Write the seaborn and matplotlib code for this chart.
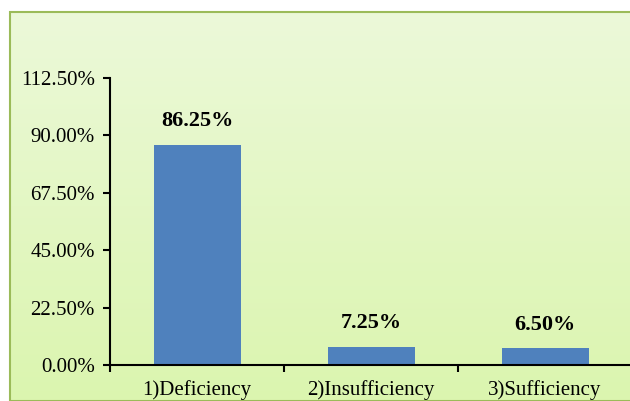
import numpy as np
import pandas as pd
import seaborn as sns
import matplotlib.pyplot as plt
from matplotlib.patches import Rectangle
from matplotlib.ticker import FixedLocator

# data
categories = ["1)Deficiency", "2)Insufficiency", "3)Sufficiency"]
values = [86.25, 7.25, 6.50]
y_ticks = [0, 22.5, 45, 67.5, 90, 112.5]

df = pd.DataFrame({"category": categories, "value": values})

sns.set_theme(style="white")
plt.rcParams['font.family'] = ['Liberation Serif', 'DejaVu Serif']

fig = plt.figure(figsize=(6.3, 4.01), dpi=100)
fig.patch.set_facecolor("white")

# gradient background panel with green border
bg = fig.add_axes([10 / 630, 0, 1 - 10 / 630, (401 - 12) / 401])
grad = np.linspace(0, 1, 256).reshape(-1, 1)
top = np.array([0xEC, 0xF9, 0xD9]) / 255
bottom = np.array([0xDB, 0xF5, 0xAF]) / 255
img = top + (bottom - top) * grad[:, :, None]
bg.imshow(img, aspect="auto", extent=[0, 1, 0, 1])
bg.set_xlim(0, 1)
bg.set_ylim(0, 1)
bg.axis("off")
bg.add_patch(Rectangle((0, 0), 1.5, 1, transform=bg.transAxes, fill=False,
                       edgecolor="#9BBB59", linewidth=1.5, clip_on=False))

ax = fig.add_axes([110 / 630, 36 / 401, 522 / 630, (365 - 78) / 401])
ax.set_facecolor("none")
sns.barplot(data=df, x="category", y="value", color="#4F81BD", saturation=1,
            width=0.5, linewidth=0, ax=ax)

ax.set_xlim(-0.5, 2.5)
ax.set_ylim(0, 112.5)
ax.set_yticks(y_ticks)
ax.set_yticklabels([f"{t:.2f}%" for t in y_ticks], fontsize=15)
ax.set_xticks(range(len(categories)))
ax.set_xticklabels(categories, fontsize=15)
ax.set_xlabel("")
ax.set_ylabel("")

# ticks between categories, labels centred
ax.xaxis.set_minor_locator(FixedLocator([-0.5, 0.5, 1.5, 2.5]))
ax.tick_params(axis="x", which="major", bottom=True, length=0, pad=11)
ax.tick_params(axis="x", which="minor", bottom=True, length=5, width=1.5,
               color="black", direction="out")
ax.tick_params(axis="y", left=True, length=5, width=1.5, color="black",
               direction="out", pad=6)
for lab in ax.get_xticklabels() + ax.get_yticklabels():
    lab.set_color("black")

sns.despine(ax=ax)
for side in ["left", "bottom"]:
    ax.spines[side].set_color("black")
    ax.spines[side].set_linewidth(1.5)

for i, v in enumerate(values):
    ax.annotate(f"{v:.2f}%", (i, v), xytext=(0, 10), textcoords="offset points",
                ha="center", va="bottom", fontsize=16, fontweight="bold", color="black")

fig.savefig("out.png", dpi=100, facecolor="white")
